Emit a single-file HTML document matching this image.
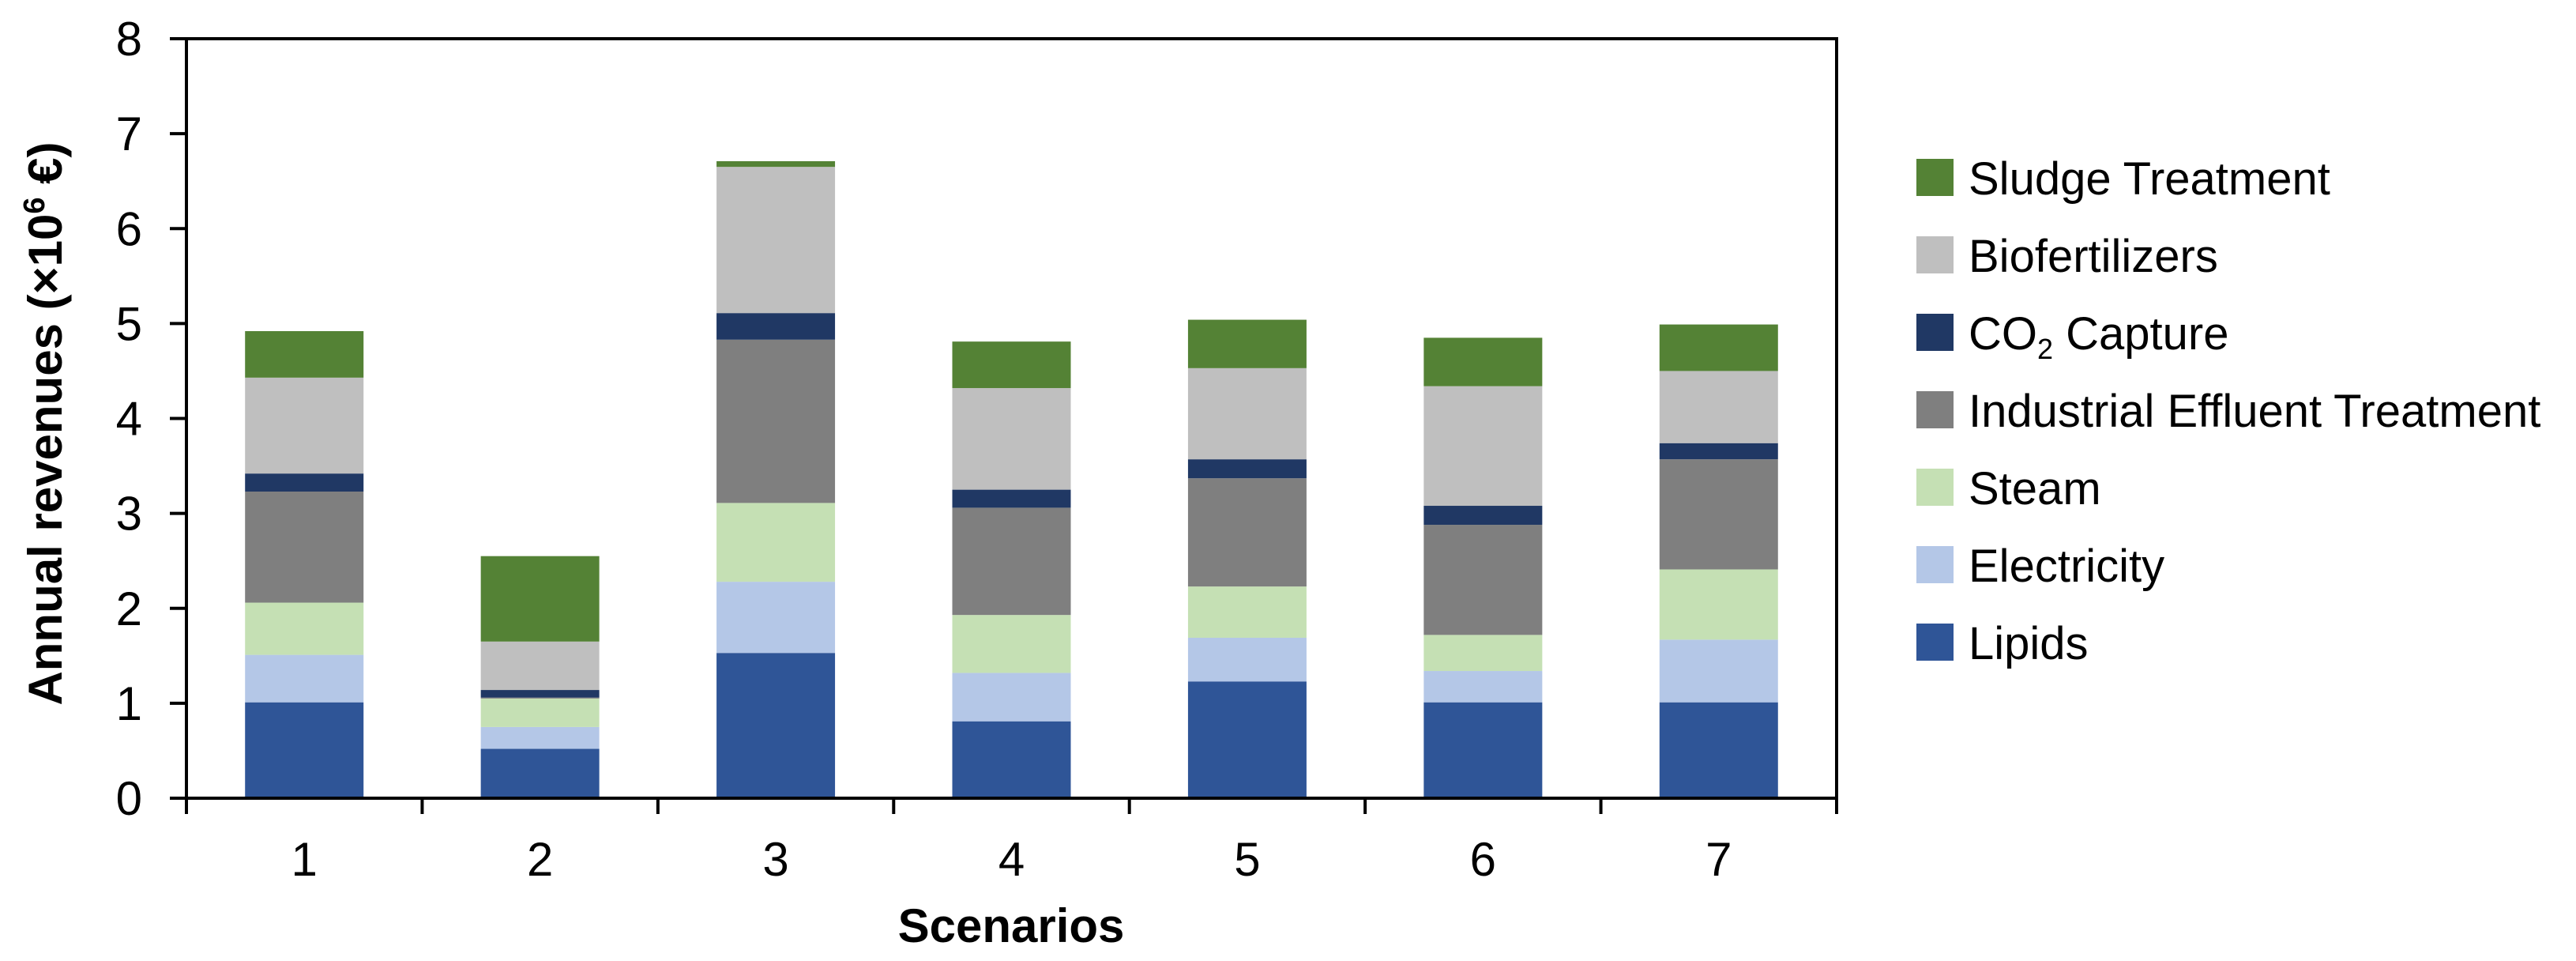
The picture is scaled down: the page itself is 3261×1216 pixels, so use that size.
<!DOCTYPE html>
<html><head><meta charset="utf-8">
<style>
html,body{margin:0;padding:0;background:#fff;}
svg{display:block;}
text{font-family:"Liberation Sans",Arial,sans-serif;fill:#000;}
.b{font-weight:bold;}
</style></head>
<body>
<svg id="chart" width="3261" height="1216" viewBox="0 0 3261 1216" xmlns="http://www.w3.org/2000/svg">
<g id="bars"></g>
<g id="axes"></g>
<text class="b" x="0" y="0" font-size="60" text-anchor="middle" transform="translate(78,536) rotate(-90)">Annual revenues (×10<tspan font-size="38" dy="-22">6</tspan><tspan dy="22"> €)</tspan></text>
<text class="b" x="1280" y="1192" font-size="60" text-anchor="middle">Scenarios</text>
<g id="legend"></g>
</svg>
<script>
const categories = ["1","2","3","4","5","6","7"];
const seriesNames = ["Lipids","Electricity","Steam","Industrial Effluent Treatment","CO2 Capture","Biofertilizers","Sludge Treatment"];
const lipids      = [1.01,0.52,1.53,0.81,1.23,1.01,1.01];
const electricity = [0.50,0.23,0.75,0.51,0.46,0.33,0.66];
const steam       = [0.55,0.30,0.83,0.61,0.54,0.38,0.74];
const industrial  = [1.17,0.01,1.72,1.13,1.14,1.16,1.16];
const co2         = [0.19,0.08,0.28,0.19,0.20,0.20,0.17];
const biofert     = [1.01,0.51,1.54,1.07,0.96,1.26,0.76];
const sludge      = [0.49,0.90,0.06,0.49,0.51,0.51,0.49];
const yTicks = ["0","1","2","3","4","5","6","7","8"];

const colors = ["#2f5597","#b4c7e7","#c5e0b4","#7f7f7f","#203864","#bfbfbf","#548235"];
const series = [lipids,electricity,steam,industrial,co2,biofert,sludge];
const NS="http://www.w3.org/2000/svg";
const X0=236,X1=2325,Y0=1010,Y8=49;
const band=(X1-X0)/categories.length;
function xc(i){return X0+band*(i+0.5);}
function y(v){return Y0-(Y0-Y8)*v/8;}
function mk(t,a,p){const e=document.createElementNS(NS,t);for(const k in a)e.setAttribute(k,a[k]);p.appendChild(e);return e;}
const bars=document.getElementById('bars');
const bw=150;
categories.forEach((c,i)=>{
  let acc=0;
  series.forEach((s,j)=>{
    const v=s[i];
    const r=mk('rect',{x:xc(i)-bw/2,y:y(acc+v),width:bw,height:y(acc)-y(acc+v),fill:colors[j]},bars);
    
    
    acc+=v;
  });
});
const ax=document.getElementById('axes');
const frame=mk('rect',{x:X0,y:Y8,width:X1-X0,height:Y0-Y8,fill:'none',stroke:'#000','stroke-width':4},ax);


yTicks.forEach((t,i)=>{
  const v=+t;
  const l=mk('line',{x1:X0-21,x2:X0,y1:y(v),y2:y(v),stroke:'#000','stroke-width':4},ax);
  
  
  const tx=mk('text',{x:180,y:y(v)+21,'font-size':60,'text-anchor':'end'},ax);
  tx.textContent=t;
  
  
});
for(let i=0;i<=categories.length;i++){
  const l=mk('line',{x1:X0+band*i,x2:X0+band*i,y1:Y0,y2:Y0+20,stroke:'#000','stroke-width':4},ax);
  
  
}
categories.forEach((c,i)=>{
  const tx=mk('text',{x:xc(i),y:1108,'font-size':60,'text-anchor':'middle'},ax);
  tx.textContent=c;
  
  
});
const lg=document.getElementById('legend');
const order=[6,5,4,3,2,1,0];
order.forEach((j,k)=>{
  const cy=225+k*98;
  const r=mk('rect',{x:2426,y:cy-24,width:47,height:47,fill:colors[j]},lg);
  
  
  const t=mk('text',{x:2492,y:cy+21,'font-size':58},lg);
  if(j===4){t.innerHTML='CO<tspan font-size="36" dy="12">2</tspan><tspan dy="-12"> Capture</tspan>';}
  else t.textContent=seriesNames[j];
  
  
});
</script>
</body></html>
